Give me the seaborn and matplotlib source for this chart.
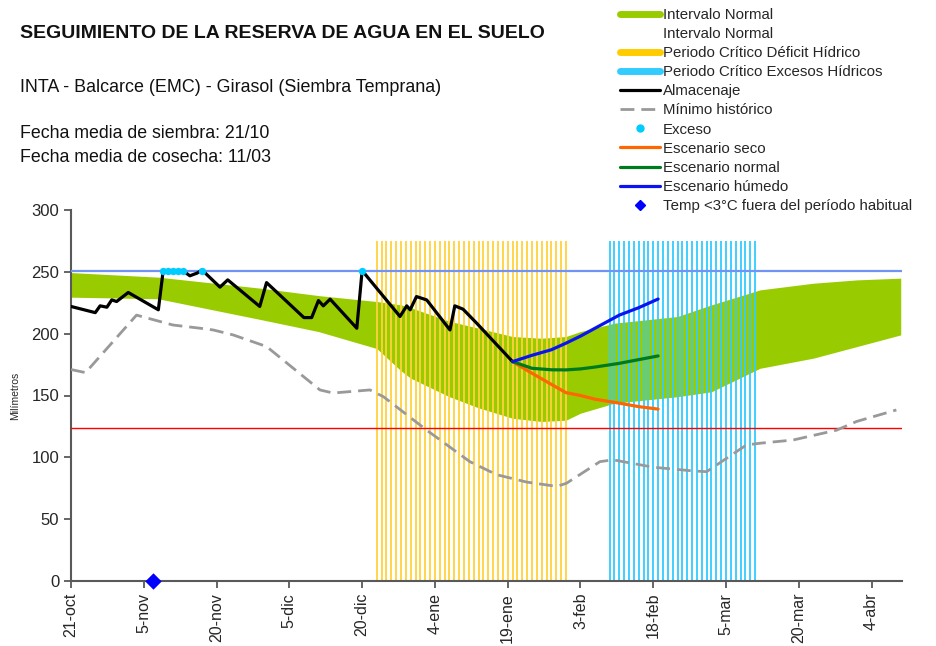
import matplotlib
matplotlib.use("Agg")
import matplotlib.pyplot as plt
from matplotlib.lines import Line2D
import seaborn as sns

# days counted from 21-oct
tick_days = [0, 15, 30, 45, 60, 75, 90, 105, 120, 135, 150, 165]
tick_labels = ["21-oct", "5-nov", "20-nov", "5-dic", "20-dic", "4-ene", "19-ene",
               "3-feb", "18-feb", "5-mar", "20-mar", "4-abr"]

# Intervalo normal (band)
band_days = [0, 18, 39, 51, 63, 68, 70, 78, 84, 91, 97, 102, 105, 112, 125, 132, 142, 153, 162, 171]
band_upper = [249.4, 245.7, 236.8, 230.8, 226, 223.3, 221, 210, 204.4, 197.7, 196.3, 197.7,
              201.7, 208.5, 213.9, 223.3, 235.4, 240.8, 243.5, 244.9]
band_lower = [229.5, 228.2, 211.5, 201.7, 188, 170, 164, 149, 140, 131.6, 129, 130,
              135.7, 143.8, 149, 153, 172, 180.2, 189.6, 199]

# Almacenaje
alm_days = [0, 2, 5, 6, 7.4, 8.4, 9.4, 11.8, 18, 19, 20, 21, 22, 23, 24.5, 26, 27, 30.7, 32.3,
            38.9, 40.3, 48, 49.6, 51, 52, 53.4, 58.9, 60, 67.8, 69.2, 69.9, 71.2, 73.3, 78.1,
            79.1, 80.8, 83.6, 91]
alm_vals = [222, 220, 217, 222.5, 221.4, 227.3, 226, 233.3, 219.3, 251, 251, 251, 251, 251,
            246.8, 249, 251.5, 237.6, 243.5, 222, 241.3, 213, 213, 226.8, 222.5, 227.9, 204.4,
            251, 213.9, 222.5, 219.3, 230, 227.3, 203, 222.5, 219.8, 208.5, 177.4]

# Minimo historico
min_days = [0, 3, 13.5, 21, 26.6, 29.3, 33.4, 40.3, 51.3, 54, 61.6, 64.4, 73.3, 82.2, 87.7,
            93.9, 100.1, 102.1, 109, 111.7, 120, 128.2, 131, 139.2, 142, 148.8, 157.8, 161.9, 170.1]
min_vals = [171, 168.5, 215, 207, 204.4, 203, 199, 189.6, 154.5, 152, 154.5, 149, 122, 96.5,
            86, 80, 76.5, 79, 96.5, 98, 92, 89, 88.4, 110, 111.4, 114, 122, 129, 138.3]

# Escenarios
esc_days = [91, 95, 99, 102, 105, 108, 113, 117, 121]
esc_seco = [177.4, 168, 159, 152.3, 150, 147, 143.8, 141, 139]
esc_normal = [177.4, 172, 170.8, 170.7, 171.5, 173, 176, 179, 182]
esc_humedo = [177.4, 182.5, 187, 192.3, 198, 204.4, 215, 221, 228]

exceso_days = [19, 20, 21, 22, 23, 27, 60]
exceso_vals = [251, 251, 251, 251, 251, 251, 251]

deficit_days = list(range(63, 103))
excesos_days = list(range(111, 142))
critico_top = 275

helada_days = [17]
helada_vals = [0]

capacidad = 251
umbral = 124

sns.set_style("ticks")
plt.rcParams["font.family"] = ["Liberation Sans", "DejaVu Sans"]

fig = plt.figure(figsize=(9.36, 6.46), dpi=100)
ax = fig.add_axes([71 / 936, 1 - 581 / 646, 830.7 / 936, 371 / 646])

ax.fill_between(band_days, band_lower, band_upper, color="#99CC00", lw=0, zorder=1)
ax.vlines(deficit_days, 0, critico_top, color="#FFD23C", lw=1.3, zorder=2)
ax.vlines(excesos_days, 0, critico_top, color="#33CCFF", lw=1.3, zorder=2)

ax.axhline(capacidad, color="#7093F5", lw=1.6, zorder=3)
ax.axhline(umbral, color="#FF0000", lw=1.0, zorder=3)

sns.lineplot(x=min_days, y=min_vals, ax=ax, color="#999999", lw=2.0,
             linestyle=(0, (5, 2.5)), zorder=4)
sns.lineplot(x=alm_days, y=alm_vals, ax=ax, color="black", lw=2.3, zorder=5)
sns.lineplot(x=esc_days, y=esc_seco, ax=ax, color="#FF6600", lw=2.3, zorder=5)
sns.lineplot(x=esc_days, y=esc_normal, ax=ax, color="#007A1F", lw=2.3, zorder=5)
sns.lineplot(x=esc_days, y=esc_humedo, ax=ax, color="#0A14F0", lw=2.3, zorder=5)
sns.scatterplot(x=exceso_days, y=exceso_vals, ax=ax, color="#00CCFF", s=28, lw=0, zorder=6)
sns.scatterplot(x=helada_days, y=helada_vals, ax=ax, color="#0000FF", marker="D", s=70,
                lw=0, zorder=7, clip_on=False)

ax.set_xlim(0, 171.2)
ax.set_ylim(0, 300)
ax.set_xticks(tick_days)
ax.set_xticklabels(tick_labels, rotation=90, fontsize=11.5)
ax.set_yticks([0, 50, 100, 150, 200, 250, 300])
ax.tick_params(axis="y", labelsize=12, length=5, width=1.3)
ax.tick_params(axis="x", length=5, width=1.3)
ax.set_ylabel("Milímetros", fontsize=7.5, color="#262626", labelpad=8)
sns.despine(ax=ax)
for s in ["left", "bottom"]:
    ax.spines[s].set_color("#595959")
    ax.spines[s].set_linewidth(1.5)
ax.tick_params(colors="#595959", labelcolor="#262626")

fig.text(20 / 936, 1 - 33 / 646, "SEGUIMIENTO DE LA RESERVA DE AGUA EN EL SUELO",
         fontsize=14, fontweight="bold", va="center", color="#111111")
fig.text(20 / 936, 1 - 88 / 646, "INTA - Balcarce (EMC) - Girasol (Siembra Temprana)",
         fontsize=12.9, va="center", color="#111111")
fig.text(20 / 936, 1 - 133 / 646, "Fecha media de siembra: 21/10",
         fontsize=12.8, va="center", color="#111111")
fig.text(20 / 936, 1 - 157 / 646, "Fecha media de cosecha: 11/03",
         fontsize=12.8, va="center", color="#111111")

handles = [
    Line2D([], [], color="#99CC00", lw=5),
    Line2D([], [], color="white", lw=5),
    Line2D([], [], color="#FFCC00", lw=5),
    Line2D([], [], color="#33CCFF", lw=5),
    Line2D([], [], color="black", lw=2.3),
    Line2D([], [], color="#999999", lw=2.0, linestyle=(0, (5, 2.5))),
    Line2D([], [], color="#00CCFF", lw=0, marker="o", markersize=5),
    Line2D([], [], color="#FF6600", lw=2.3),
    Line2D([], [], color="#007A1F", lw=2.3),
    Line2D([], [], color="#0A14F0", lw=2.3),
    Line2D([], [], color="#0000FF", lw=0, marker="D", markersize=5),
]
labels = ["Intervalo Normal", "Intervalo Normal", "Periodo Crítico Déficit Hídrico",
          "Periodo Crítico Excesos Hídricos", "Almacenaje", "Mínimo histórico", "Exceso",
          "Escenario seco", "Escenario normal", "Escenario húmedo",
          "Temp <3°C fuera del período habitual"]
fig.legend(handles, labels, loc="upper left", bbox_to_anchor=(620 / 936, 1 - 8 / 646),
           frameon=False, fontsize=10.8, handlelength=2.65, handletextpad=0.2,
           labelspacing=0.34, borderaxespad=0, borderpad=0)

fig.savefig("out.png", dpi=100)
